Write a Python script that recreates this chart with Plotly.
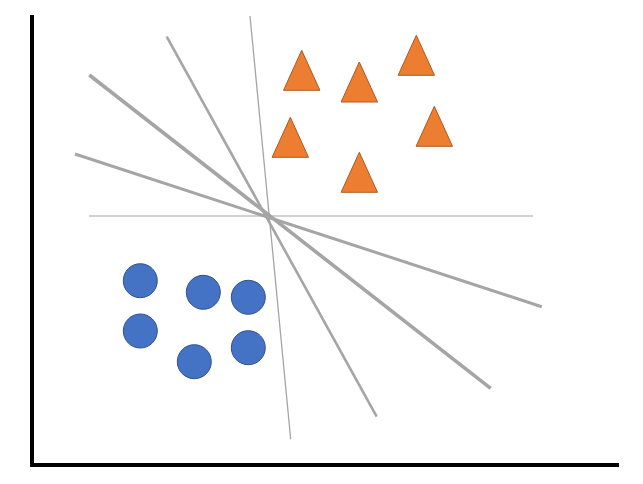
import plotly.graph_objects as go

# Blue class (circles): centre positions
circle_x = [106.3, 169.3, 214.3, 106.3, 160.3, 214.3]
circle_y = [182.3, 170.7, 165.7, 132.0, 101.3, 115.3]

# Orange class (triangles): apex x and base y
tri_x = [267.7, 325.3, 382.3, 256.3, 400.3, 325.3]
tri_base_y = [372.7, 361.0, 387.7, 305.7, 316.7, 270.7]

# Candidate separating lines: (x0, y0, x1, y1)
sep_lines = [
    (55.0, 247.0, 499.0, 247.0),
    (216.0, 447.0, 256.7, 23.7),
    (132.7, 426.3, 342.7, 46.3),
    (55.3, 388.0, 456.7, 74.7),
    (41.0, 309.0, 507.7, 156.3),
]
line_widths = [1.0, 1.3, 2.6, 3.6, 3.0]

TRI_W = 36.4
TRI_H = 40.0

fig = go.Figure()

for (x0, y0, x1, y1), w in zip(sep_lines, line_widths):
    fig.add_trace(go.Scatter(x=[x0, x1], y=[y0, y1], mode="lines",
                             line=dict(color="#A5A5A5", width=w),
                             hoverinfo="skip", showlegend=False))

tx, ty = [], []
for cx, by in zip(tri_x, tri_base_y):
    tx += [cx - TRI_W / 2, cx + TRI_W / 2, cx, cx - TRI_W / 2, None]
    ty += [by, by, by + TRI_H, by, None]
fig.add_trace(go.Scatter(x=tx, y=ty, mode="lines", fill="toself",
                         fillcolor="#ED7D31",
                         line=dict(color="#AE5A21", width=1),
                         hoverinfo="skip", showlegend=False))

fig.add_trace(go.Scatter(x=circle_x, y=circle_y, mode="markers",
                         marker=dict(symbol="circle", size=34, color="#4472C4",
                                     line=dict(color="#2F528F", width=1)),
                         hoverinfo="skip", showlegend=False))

fig.update_layout(
    width=635, height=476,
    margin=dict(l=26, r=24, t=7, b=21),
    paper_bgcolor="white", plot_bgcolor="white",
    showlegend=False,
)
fig.update_xaxes(range=[0, 585], showgrid=False, zeroline=False,
                 showticklabels=False, ticks="", showline=True,
                 linecolor="black", linewidth=4, mirror=False)
fig.update_yaxes(range=[0, 448], showgrid=False, zeroline=False,
                 showticklabels=False, ticks="", showline=True,
                 linecolor="black", linewidth=4, mirror=False)

fig.write_html("out.html")
